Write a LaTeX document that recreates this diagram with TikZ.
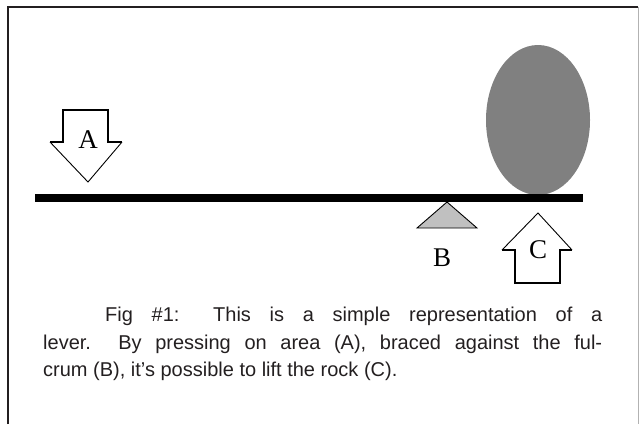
\documentclass[tikz,border=0pt]{standalone}
\usepackage{fontspec}
\usetikzlibrary{shapes.geometric}
\setmainfont{Liberation Sans}
\newfontfamily\labelfont{Liberation Serif}
\definecolor{inkgray}{HTML}{231F20}
\definecolor{rockgray}{HTML}{808080}
\definecolor{fulcrumgray}{HTML}{C0C0C0}
\begin{document}
\begin{tikzpicture}[x=1pt,y=-1pt,
  thinedge/.style={draw=black,line width=0.9pt,line join=miter},
  thickedge/.style={draw=black,line width=2.2pt,line cap=rect,line join=miter},
  letter/.style={font=\labelfont\fontsize{27}{27}\selectfont,inner sep=0pt}]
  \useasboundingbox (0,0) rectangle (639,424);
  % frame
  \draw[inkgray,line width=2.2pt] (8,424) -- (8,7) -- (638,7);
  \draw[gray!60,line width=0.8pt] (638,7) -- (638,424);
  % rock
  \node[ellipse,fill=rockgray,minimum width=104pt,minimum height=150pt,inner sep=0pt] (rock) at (538,120) {};
  % fulcrum
  \coordinate (apex) at (447,202);
  \draw[thinedge,fill=fulcrumgray] (apex) -- (417,228) -- (477,228) -- cycle;
  % lever bar
  \fill[black] (35,193.5) rectangle (583,201.5);
  % arrow A (pushing down)
  \fill[white] (63,110) -- (108,110) -- (108,142) -- (122,142) -- (88,182) -- (50,142) -- (63,142) -- cycle;
  \draw[thinedge] (50,142) -- (88,182) -- (122,142);
  \draw[thickedge] (51,142) -- (63,142) -- (63,110) -- (108,110) -- (108,142) -- (121,142);
  \node[letter] (A) at (88,140) {A};
  % arrow C (lifting up)
  \fill[white] (538,213) -- (572,250) -- (560,250) -- (560,283) -- (515,283) -- (515,250) -- (502,250) -- cycle;
  \draw[thinedge] (502,250) -- (538,213) -- (572,250);
  \draw[thickedge] (503,250) -- (515,250) -- (515,283) -- (560,283) -- (560,250) -- (571,250);
  \node[letter] (C) at (538,250) {C};
  % fulcrum label
  \node[letter] (B) at (442,258) {B};
  % caption
  \node[anchor=north west,inner sep=0pt,text width=559pt,align=justify,
        font=\fontsize{20}{27.5}\selectfont,text=inkgray] (caption) at (43,307)
   {\hspace*{62pt}Fig \#1: This is a simple representation of a\linebreak
    lever.\ \ By pressing on area (A), braced against the ful-\linebreak
    crum (B), it’s possible to lift the rock (C).};
\end{tikzpicture}
\end{document}
